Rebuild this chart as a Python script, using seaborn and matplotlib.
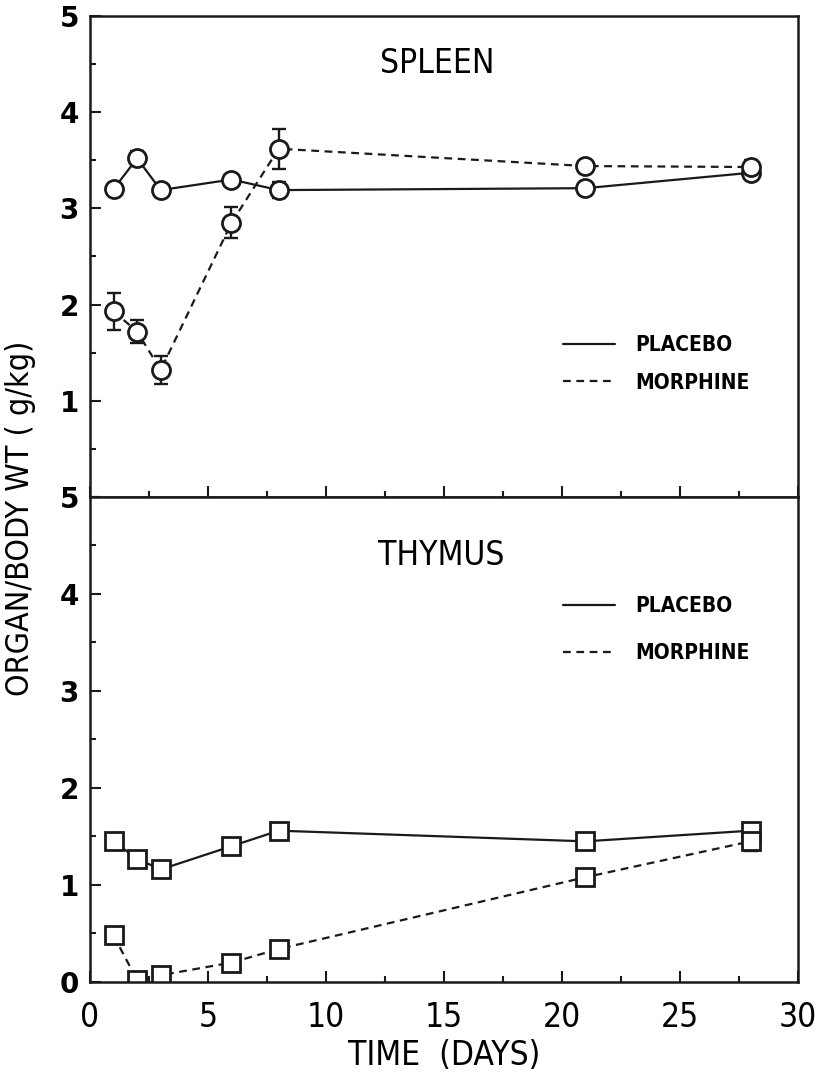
import matplotlib
matplotlib.use('Agg')
import matplotlib.pyplot as plt
from matplotlib.lines import Line2D
from matplotlib.ticker import MultipleLocator
import seaborn as sns

# Data
days = [1, 2, 3, 6, 8, 21, 28]

spleen_placebo = [3.20, 3.52, 3.19, 3.30, 3.19, 3.21, 3.37]
spleen_placebo_err = [0, 0.08, 0, 0, 0.08, 0, 0.05]
spleen_morphine = [1.93, 1.72, 1.32, 2.85, 3.62, 3.44, 3.43]
spleen_morphine_err = [0.19, 0.12, 0.15, 0.16, 0.21, 0, 0.07]

thymus_placebo = [1.45, 1.27, 1.16, 1.40, 1.56, 1.45, 1.56]
thymus_placebo_err = [0, 0, 0, 0, 0.04, 0, 0.04]
thymus_morphine = [0.48, 0.02, 0.07, 0.20, 0.34, 1.08, 1.45]
thymus_morphine_err = [0, 0, 0, 0, 0, 0, 0.10]

legend_labels = ['PLACEBO', 'MORPHINE']

sns.set_theme(style='white')
plt.rcParams['font.family'] = ['DejaVu Sans']
plt.rcParams['font.stretch'] = 'condensed'
plt.rcParams['text.color'] = 'black'
plt.rcParams['axes.labelcolor'] = 'black'
plt.rcParams['xtick.color'] = 'black'
plt.rcParams['ytick.color'] = 'black'

DASH = (0, (3.5, 2.5))

fig = plt.figure(figsize=(8.25, 10.79), dpi=100)
ax_top = fig.add_axes([0.109, 0.5394, 0.858, 0.4458])
ax_bot = fig.add_axes([0.109, 0.0899, 0.858, 0.4495])


def style_yticks(ax):
    for lab in ax.get_yticklabels():
        lab.set_fontstretch('normal')
        lab.set_fontweight('bold')
        lab.set_fontsize(20)


def draw_panel(ax, placebo, placebo_err, morphine, morphine_err, marker):
    for vals, err, ls in [(placebo, placebo_err, '-'), (morphine, morphine_err, DASH)]:
        ax.errorbar(days, vals, yerr=err, fmt='none', ecolor='k',
                    elinewidth=1.7, capsize=5, capthick=1.7, zorder=1)
        sns.lineplot(x=days, y=vals, ax=ax, color='k', linestyle=ls, linewidth=1.6,
                     marker=marker, markersize=13, markerfacecolor='white',
                     markeredgecolor='k', markeredgewidth=2.0, zorder=2)

    ax.set_xlim(0, 30)
    ax.set_ylim(0, 5)
    ax.xaxis.set_major_locator(MultipleLocator(5))
    ax.xaxis.set_minor_locator(MultipleLocator(2.5))
    ax.yaxis.set_major_locator(MultipleLocator(1))
    ax.yaxis.set_minor_locator(MultipleLocator(0.5))
    ax.tick_params(which='both', direction='in', color='k', width=1.5,
                   left=True, bottom=True, top=False, right=False)
    ax.tick_params(which='major', length=8)
    ax.tick_params(which='minor', length=4)
    ax.tick_params(axis='y', pad=8)
    ax.tick_params(axis='x', pad=14, labelsize=24)
    for s in ax.spines.values():
        s.set_color('k')
        s.set_linewidth(1.8)
    ax.set_xlabel('')
    ax.set_ylabel('')

    handles = [Line2D([], [], color='k', lw=1.6, ls='-'),
               Line2D([], [], color='k', lw=1.6, ls=DASH)]
    return handles


legend_prop = {'family': 'DejaVu Sans', 'stretch': 'condensed',
               'weight': 'bold', 'size': 15}

h = draw_panel(ax_top, spleen_placebo, spleen_placebo_err,
               spleen_morphine, spleen_morphine_err, 'o')
ax_top.set_xticklabels([])
ax_top.set_yticks([0, 1, 2, 3, 4, 5])
ax_top.set_yticklabels(['', '1', '2', '3', '4', '5'])
style_yticks(ax_top)
ax_top.text(0.49, 0.902, 'SPLEEN', transform=ax_top.transAxes,
            ha='center', va='center', fontsize=24)
ax_top.legend(h, legend_labels, frameon=False, loc='upper left',
              bbox_to_anchor=(0.668, 0.337), borderpad=0, borderaxespad=0,
              handlelength=2.5, handletextpad=1.0, labelspacing=0.85,
              prop=legend_prop)

h = draw_panel(ax_bot, thymus_placebo, thymus_placebo_err,
               thymus_morphine, thymus_morphine_err, 's')
style_yticks(ax_bot)
ax_bot.text(0.496, 0.880, 'THYMUS', transform=ax_bot.transAxes,
            ha='center', va='center', fontsize=24)
ax_bot.legend(h, legend_labels, frameon=False, loc='upper left',
              bbox_to_anchor=(0.668, 0.795), borderpad=0, borderaxespad=0,
              handlelength=2.5, handletextpad=1.0, labelspacing=1.3,
              prop=legend_prop)

fig.text(0.025, 0.52, 'ORGAN/BODY WT ( g/kg)', rotation=90,
         ha='center', va='center', fontsize=23)
fig.text(0.538, 0.022, 'TIME  (DAYS)', ha='center', va='center', fontsize=24)

fig.savefig('out.png', dpi=100)
